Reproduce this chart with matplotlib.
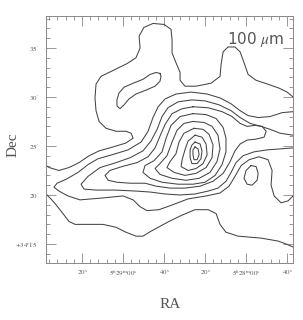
import numpy as np
import matplotlib
matplotlib.use('Agg')
import matplotlib.pyplot as plt
from matplotlib.ticker import MultipleLocator

plt.rcParams['mathtext.fontset'] = 'stix'
plt.rcParams['font.family'] = ['Liberation Serif', 'DejaVu Serif']

# RA: seconds of time east of 5h28m00s, Dec: arcmin above +34 deg
# level 1, upper arm
lev1_top_ra = [-22.9, -20.0, -16.1, -10.7, -4.9, -1.0, 1.0, 2.9, 5.4, 8.8, 11.2, 12.2, 12.7, 17.1, 24.4,
               29.8, 32.2, 32.2, 34.2, 36.1, 36.1, 36.6, 40.0, 45.4, 49.8, 52.2, 51.7, 53.7, 58.1, 64.9,
               70.8, 73.2, 73.7, 73.2, 71.7, 68.3, 63.4, 58.6, 56.1, 55.1, 58.6, 64.9, 71.7, 76.6, 81.5,
               86.4, 91.3, 96.1, 97.6]
lev1_top_dec = [30.0, 30.5, 30.9, 31.3, 31.7, 32.3, 33.5, 34.6, 35.1, 35.1, 34.6, 33.3, 32.1, 31.4, 31.1,
                31.1, 31.7, 32.5, 33.5, 34.5, 35.8, 36.9, 37.4, 37.5, 37.1, 36.2, 35.0, 34.0, 33.4, 32.7,
                32.1, 31.3, 29.9, 28.6, 27.5, 26.8, 26.5, 26.5, 26.3, 25.8, 25.3, 24.9, 24.5, 24.0, 23.3,
                22.8, 22.5, 22.8, 23.0]
# level 1, lower arm
lev1_bot_ra = [97.6, 95.2, 92.7, 89.3, 86.4, 83.4, 77.1, 69.8, 63.4, 58.6, 53.7, 50.3, 46.4, 42.0, 37.6,
               31.7, 24.9, 18.5, 14.6, 12.7, 9.8, 3.9, -7.3, -15.6, -19.5, -22.9]
lev1_bot_dec = [20.1, 19.6, 19.0, 18.1, 17.3, 17.0, 17.0, 17.0, 16.7, 16.2, 15.8, 15.8, 16.3, 16.8, 17.3,
                17.9, 18.5, 18.5, 18.1, 17.0, 16.2, 15.8, 15.6, 15.3, 15.0, 14.7]
# small closed contour, north-east
north_ra = [42.0, 43.9, 46.8, 50.3, 55.1, 59.5, 62.0, 63.0, 63.0, 61.5, 59.5, 57.1, 53.7, 48.8, 44.4,
            42.0, 41.5, 42.0]
north_dec = [32.4, 32.5, 32.3, 31.8, 31.4, 31.0, 30.4, 29.7, 29.1, 28.8, 29.2, 29.8, 30.3, 30.7, 31.1,
             31.6, 32.1, 32.4]
# level 2
lev2_ra = [-22.9, -17.6, -11.7, -5.9, -1.0, 2.9, 7.3, 12.7, 19.0, 26.8, 34.2, 39.5, 42.9, 45.4, 47.8,
           51.2, 57.6, 65.4, 72.2, 77.1, 82.0, 87.8, 92.2, 93.7, 91.3, 86.9, 81.0, 69.8, 60.0, 55.1,
           51.7, 48.3, 42.5, 37.1, 28.3, 19.5, 12.7, 8.3, 5.4, 2.4, -1.5, -6.3, -10.7, -12.7, -12.2,
           -13.7, -17.1, -20.5, -22.9]
lev2_dec = [28.5, 28.4, 28.0, 27.9, 28.1, 28.6, 29.3, 29.9, 30.3, 30.5, 30.3, 29.8, 29.0, 27.9, 26.5,
            25.4, 24.6, 24.1, 23.7, 23.1, 22.3, 21.6, 21.2, 20.8, 20.4, 19.9, 19.5, 19.7, 19.9, 19.5,
            18.8, 18.4, 18.5, 18.9, 19.6, 19.9, 20.2, 20.9, 21.9, 23.0, 23.6, 23.9, 23.6, 22.5, 21.0,
            19.9, 19.2, 19.4, 19.9]
# small closed contour, west
west_ra = [-2.4, -4.9, -5.9, -5.4, -2.9, -0.5, 1.0, 0.0, -2.4]
west_dec = [23.0, 22.9, 22.2, 21.5, 21.0, 21.1, 21.7, 22.5, 23.0]
# level 3
lev3_ra = [-22.9, -16.6, -11.7, -7.3, -2.0, 2.9, 7.3, 13.2, 20.0, 26.4, 33.2, 38.1, 41.0, 43.4, 46.4,
           50.3, 56.6, 63.4, 71.2, 77.1, 80.5, 79.1, 73.2, 63.9, 53.7, 46.8, 39.5, 32.2, 24.9, 18.5,
           13.7, 9.8, 7.3, 4.9, 1.5, -3.9, -10.2, -16.6, -22.9]
lev3_dec = [26.1, 26.3, 26.7, 27.0, 27.3, 27.9, 28.6, 29.2, 29.6, 29.7, 29.5, 28.9, 28.0, 26.7, 25.5,
            24.5, 23.8, 23.3, 22.8, 21.9, 21.1, 20.6, 20.5, 20.5, 20.4, 20.3, 20.1, 20.0, 20.1, 20.4,
            20.7, 21.4, 22.3, 23.3, 24.0, 24.4, 24.6, 24.7, 24.8]
# level 4
lev4_ra = [25.9, 18.5, 11.7, 6.8, 2.9, -0.5, -4.4, -7.8, -9.8, -8.8, -4.9, -0.5, 2.9, 5.4, 7.8,
           11.2, 16.1, 22.4, 29.8, 37.1, 43.9, 49.3, 56.6, 63.0, 67.3, 68.8, 66.4, 60.5, 53.2, 47.8,
           44.4, 42.0, 39.5, 36.1, 31.2, 25.9]
lev4_dec = [29.0, 28.9, 28.5, 28.0, 27.3, 27.0, 27.1, 27.0, 26.5, 25.9, 25.7, 25.6, 25.2, 24.5, 23.4,
            22.2, 21.4, 20.9, 20.7, 20.7, 20.9, 21.2, 21.2, 21.3, 21.5, 22.0, 22.5, 22.9, 23.3, 23.9,
            24.8, 26.0, 27.2, 28.3, 28.8, 29.0]
# levels 5 - 10 around the peak
lev5_ra = [25.9, 19.5, 14.6, 11.2, 9.8, 9.8, 11.7, 15.1, 20.0, 25.9, 33.2, 41.0, 46.8, 50.3, 49.3,
           44.9, 41.0, 39.0, 36.6, 32.2, 25.9]
lev5_dec = [28.3, 28.2, 27.8, 26.9, 25.8, 24.4, 23.1, 22.0, 21.3, 21.1, 21.1, 21.3, 21.7, 22.3, 23.0,
            23.5, 24.4, 25.8, 27.1, 28.0, 28.3]
lev6_ra = [25.9, 20.5, 16.6, 13.7, 12.7, 14.2, 17.6, 22.9, 29.3, 36.1, 42.0, 44.4, 42.0, 38.6, 36.1,
           33.7, 30.3, 25.9]
lev6_dec = [27.5, 27.4, 27.0, 26.1, 24.7, 23.4, 22.3, 21.7, 21.5, 21.7, 22.1, 22.7, 23.2, 24.0, 25.4,
            26.6, 27.3, 27.5]
lev7_ra = [25.4, 21.0, 18.1, 16.1, 16.6, 19.5, 24.4, 29.8, 35.1, 38.6, 37.1, 34.2, 32.7, 30.3, 25.4]
lev7_dec = [26.8, 26.7, 26.2, 25.1, 23.8, 22.8, 22.2, 22.0, 22.3, 22.8, 23.4, 24.2, 25.4, 26.3, 26.8]
lev8_ra = [24.9, 21.5, 19.5, 19.0, 21.0, 24.4, 28.3, 31.7, 31.2, 29.8, 28.3, 24.9]
lev8_dec = [26.1, 25.9, 25.2, 24.1, 23.2, 22.7, 22.5, 22.9, 23.6, 24.6, 25.5, 26.1]
lev9_ra = [24.9, 22.4, 21.5, 22.0, 23.9, 26.4, 27.3, 27.3, 26.4, 24.9]
lev9_dec = [25.4, 25.2, 24.5, 23.7, 23.2, 23.2, 23.8, 24.6, 25.1, 25.4]
lev10_ra = [24.9, 23.4, 22.9, 23.9, 25.4, 25.9, 25.9, 24.9]
lev10_dec = [24.9, 24.7, 24.1, 23.6, 23.6, 24.1, 24.6, 24.9]

contours = [(lev1_top_ra, lev1_top_dec), (lev1_bot_ra, lev1_bot_dec), (north_ra, north_dec),
            (lev2_ra, lev2_dec), (west_ra, west_dec), (lev3_ra, lev3_dec), (lev4_ra, lev4_dec),
            (lev5_ra, lev5_dec), (lev6_ra, lev6_dec), (lev7_ra, lev7_dec), (lev8_ra, lev8_dec),
            (lev9_ra, lev9_dec), (lev10_ra, lev10_dec)]

ra_ticks = [80, 60, 40, 20, 0, -20]
ra_labels = [r'$20^{\rm s}$', r'$5^{\rm h}29^{\rm m}00^{\rm s}$', r'$40^{\rm s}$',
             r'$20^{\rm s}$', r'$5^{\rm h}28^{\rm m}00^{\rm s}$', r'$40^{\rm s}$']
dec_ticks = [15, 20, 25, 30, 35]
dec_labels = [r"$+34^{\circ}15'$", r"$20'$", r"$25'$", r"$30'$", r"$35'$"]

fig = plt.figure(figsize=(3.03, 3.20), dpi=100)
ax = fig.add_axes([46 / 303, 57 / 320, 247 / 303, 247 / 320])

for ra, dec in contours:
    ax.plot(ra, dec, color='#444444', lw=0.75, solid_joinstyle='round')

ax.set_xlim(97.6, -22.9)
ax.set_ylim(13.06, 38.26)
ax.set_xticks(ra_ticks)
ax.set_xticklabels(ra_labels)
ax.set_yticks(dec_ticks)
ax.set_yticklabels(dec_labels)
ax.xaxis.set_minor_locator(MultipleLocator(4))
ax.yaxis.set_minor_locator(MultipleLocator(1))
ax.tick_params(which='both', direction='in', top=True, right=True, color='#888888',
               labelsize=5, labelcolor='#555555', width=0.6)
ax.tick_params(which='major', length=7)
ax.tick_params(which='minor', length=3)
ax.tick_params(axis='x', pad=4)
ax.tick_params(axis='y', pad=5)
for s in ax.spines.values():
    s.set_color('#888888')
    s.set_linewidth(0.7)

ax.text(0.85, 0.905, r'100 $\mu$m', transform=ax.transAxes, ha='center', va='center',
        fontsize=11, color='#555555', family='DejaVu Sans')
fig.text(13 / 303, 1 - 145 / 320, 'Dec', rotation=90, ha='center', va='center',
         fontsize=11, color='#555555')
fig.text(170 / 303, 1 - 305 / 320, 'RA', ha='center', va='center', fontsize=11, color='#555555')

fig.savefig('out.png', dpi=100)
